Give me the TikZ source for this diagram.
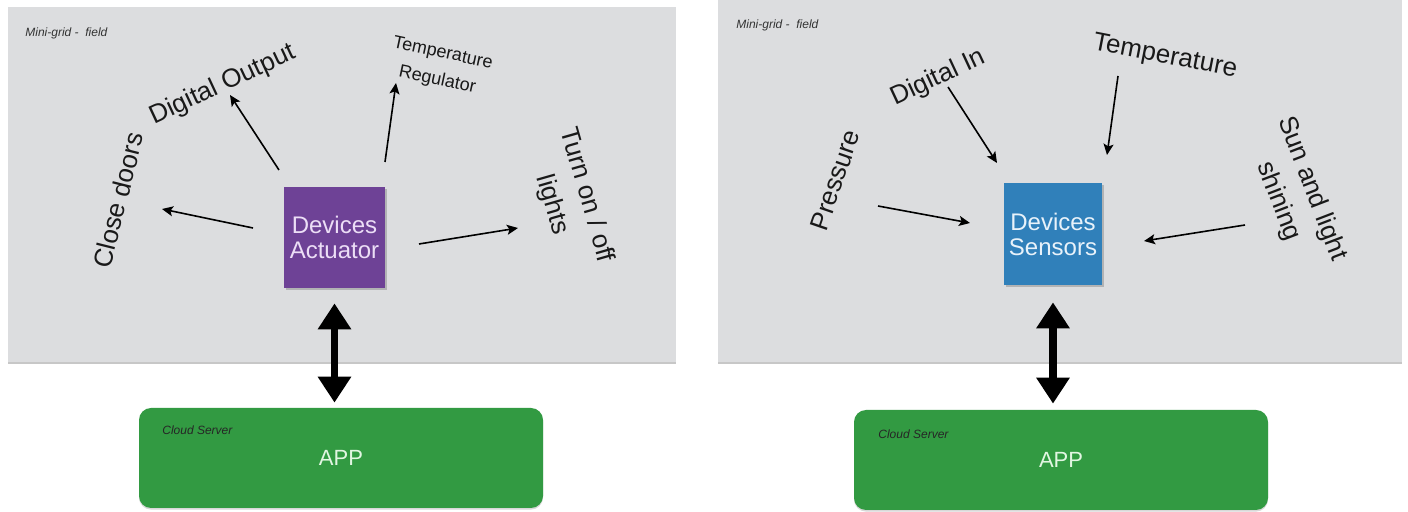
\documentclass[tikz,border=0pt]{standalone}
\usepackage{fontspec}
\setmainfont{Liberation Sans}
\usetikzlibrary{arrows.meta,shadows}
\definecolor{panelgray}{RGB}{220,221,223}
\definecolor{actpurple}{RGB}{110,66,150}
\definecolor{senblue}{RGB}{48,128,186}
\definecolor{appgreen}{RGB}{50,154,66}
\definecolor{acttext}{RGB}{236,222,246}
\definecolor{sentext}{RGB}{232,242,250}
\definecolor{apptext}{RGB}{226,246,226}
\definecolor{labeltext}{RGB}{25,25,25}
\tikzset{
  panel/.style={fill=panelgray, draw=none, inner sep=0pt,
    drop shadow={shadow xshift=0pt, shadow yshift=-1.2pt, opacity=0.4, fill=black!55}},
  devbox/.style={draw=none, inner sep=0pt, align=center,
    font=\fontsize{12}{12.5}\selectfont,
    drop shadow={shadow xshift=0.8pt, shadow yshift=-0.8pt, opacity=0.35, fill=black!60}},
  appbox/.style={fill=appgreen, draw=none, rounded corners=6pt, inner sep=0pt,
    text=apptext, font=\fontsize{11}{12}\selectfont,
    drop shadow={shadow xshift=0pt, shadow yshift=-0.8pt, opacity=0.25, fill=black!60}},
  smalltag/.style={font=\fontsize{6}{7}\selectfont\itshape, text=black!80, inner sep=0pt, anchor=west},
  biglabel/.style={font=\fontsize{13}{18}\selectfont, text=labeltext, inner sep=0pt, align=center},
  smalllabel/.style={font=\fontsize{9}{13.5}\selectfont, text=labeltext, inner sep=0pt, align=center},
  arr/.style={line width=0.8pt, black, -{Stealth[length=5.5pt,width=5pt,inset=1.2pt]}},
  dbl/.style={line width=3.6pt, black,
    {Triangle[width=16pt,length=13pt]}-{Triangle[width=16pt,length=13pt]}}
}
\begin{document}
\begin{tikzpicture}[x=0.5pt,y=-0.5pt]
\useasboundingbox (0,0) rectangle (1408,512);
\fill[white] (0,0) rectangle (1408,512);

% ---------- panels ----------
\node[panel, minimum width=334pt, minimum height=177.5pt] (fieldL) at (342,184.5) {};
\node[panel, minimum width=342pt, minimum height=181pt] (fieldR) at (1060,181) {};

\node[smalltag] (tagL) at (25,33) {Mini-grid -\ \ field};
\node[smalltag] (tagR) at (736,25) {Mini-grid -\ \ field};

% ---------- left: actuator ----------
\node[devbox, fill=actpurple, text=acttext, minimum width=50.5pt, minimum height=50.5pt]
  (act) at (334.5,237.5) {Devices\\Actuator};

\node[biglabel, rotate=76] (close) at (118,200) {Close doors};
\node[biglabel, rotate=25] (dout) at (223,85) {Digital Output};
\node[smalllabel, rotate=-12] (treg) at (440,67) {Temperature\\Regulator};
\node[biglabel, rotate=-74] (lights) at (569,200) {Turn on / off\\lights};

\coordinate (a1s) at (253,228); \coordinate (a1e) at (162,209);
\coordinate (a2s) at (279,170); \coordinate (a2e) at (230,95);
\coordinate (a3s) at (385,162); \coordinate (a3e) at (396,83);
\coordinate (a4s) at (419,244); \coordinate (a4e) at (518,228);
\draw[arr] (a1s) -- (a1e);
\draw[arr] (a2s) -- (a2e);
\draw[arr] (a3s) -- (a3e);
\draw[arr] (a4s) -- (a4e);

\node[appbox, minimum width=202pt, minimum height=50pt] (app1) at (341,458) {APP};
\node[smalltag, text=black!85] (cs1) at (162,430) {Cloud Server};
\draw[dbl, shorten <=7.5pt, shorten >=2.5pt] (act.south) -- (act.south |- app1.north);

% ---------- right: sensors ----------
\node[devbox, fill=senblue, text=sentext, minimum width=49pt, minimum height=51pt]
  (sen) at (1053,234) {Devices\\Sensors};

\node[biglabel, rotate=71] (press) at (835,180) {Pressure};
\node[biglabel, rotate=25] (din) at (938,78) {Digital In};
\node[biglabel, rotate=-11] (temp) at (1165,57) {Temperature};
\node[biglabel, rotate=-69] (sun) at (1295,195) {Sun and light\\shining};

\coordinate (b1s) at (878,206);  \coordinate (b1e) at (970,223);
\coordinate (b2s) at (948,87);   \coordinate (b2e) at (997,163);
\coordinate (b3s) at (1118,76);  \coordinate (b3e) at (1107,155);
\coordinate (b4s) at (1245,225); \coordinate (b4e) at (1144,241);
\draw[arr] (b1s) -- (b1e);
\draw[arr] (b2s) -- (b2e);
\draw[arr] (b3s) -- (b3e);
\draw[arr] (b4s) -- (b4e);

\node[appbox, minimum width=207pt, minimum height=50pt] (app2) at (1061,460) {APP};
\node[smalltag, text=black!85] (cs2) at (878,434) {Cloud Server};
\draw[dbl, shorten <=8.5pt, shorten >=3pt] (sen.south) -- (sen.south |- app2.north);
\end{tikzpicture}
\end{document}
